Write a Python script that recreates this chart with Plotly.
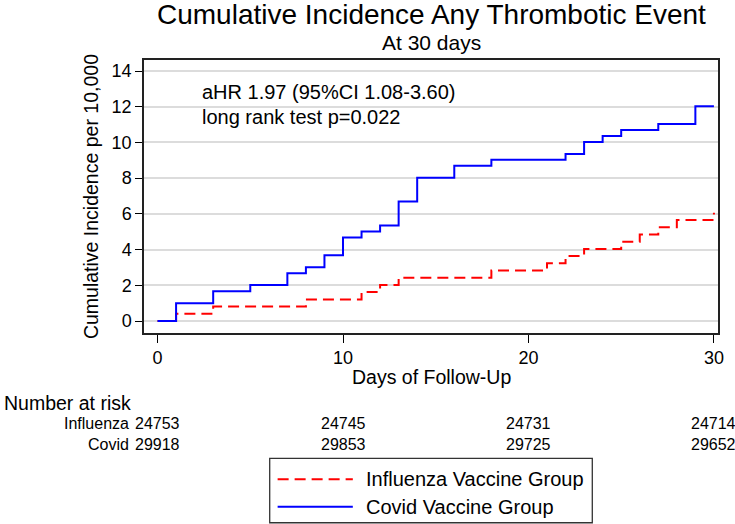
import plotly.graph_objects as go

# ---- data ----
covid_days = [0, 1, 3, 5, 7, 8, 9, 10, 11, 12, 13, 14, 16, 18, 22, 23, 24, 25, 27, 29, 30]
covid_ci = [0, 1.00, 1.67, 2.01, 2.67, 3.01, 3.68, 4.68, 5.01, 5.35, 6.69, 8.02, 8.69,
            9.03, 9.36, 10.03, 10.36, 10.70, 11.03, 12.03, 12.03]
flu_days = [0, 1, 3, 8, 11, 12, 13, 18, 21, 22, 23, 25, 26, 27, 28, 30]
flu_ci = [0, 0.40, 0.81, 1.21, 1.62, 2.02, 2.42, 2.83, 3.23, 3.64, 4.04, 4.44, 4.85,
          5.25, 5.66, 6.06]

risk_days = [0, 10, 20, 30]
risk_flu = [24753, 24745, 24731, 24714]
risk_covid = [29918, 29853, 29725, 29652]

x_ticks = [0, 10, 20, 30]
y_ticks = [0, 2, 4, 6, 8, 10, 12, 14]

group_names = ["Influenza Vaccine Group", "Covid Vaccine Group"]
group_colors = ["#ff0000", "#0000ff"]
group_dash = ["11px,6px", "solid"]

FONT = "Arial, 'Liberation Sans', sans-serif"

fig = go.Figure()
fig.add_trace(go.Scatter(x=flu_days, y=flu_ci, mode="lines", line_shape="hv",
                         line=dict(color=group_colors[0], width=2, dash=group_dash[0]),
                         name=group_names[0], showlegend=False))
fig.add_trace(go.Scatter(x=covid_days, y=covid_ci, mode="lines", line_shape="hv",
                         line=dict(color=group_colors[1], width=2, dash=group_dash[1]),
                         name=group_names[1], showlegend=False))

ann = []
# titles
ann.append(dict(text="Cumulative Incidence Any Thrombotic Event", xref="paper", yref="paper",
                x=0.5, y=1.168, xanchor="center", yanchor="middle", showarrow=False,
                font=dict(size=28, color="black")))
ann.append(dict(text="At 30 days", xref="paper", yref="paper",
                x=0.5, y=1.064, xanchor="center", yanchor="middle", showarrow=False,
                font=dict(size=21, color="black")))
# stats text
ann.append(dict(text="aHR 1.97 (95%CI 1.08-3.60)", xref="paper", yref="paper",
                x=0.0983, y=0.884, xanchor="left", yanchor="middle", showarrow=False,
                font=dict(size=20, color="black")))
ann.append(dict(text="long rank test p=0.022", xref="paper", yref="paper",
                x=0.0983, y=0.792, xanchor="left", yanchor="middle", showarrow=False,
                font=dict(size=20, color="black")))
# axis titles
ann.append(dict(text="Days of Follow-Up", xref="paper", yref="paper",
                x=0.5, y=-0.161, xanchor="center", yanchor="middle", showarrow=False,
                font=dict(size=19.5, color="black")))
ann.append(dict(text="Cumulative Incidence per 10,000", xref="paper", yref="paper",
                x=-0.093, y=0.5, xanchor="center", yanchor="middle", showarrow=False,
                textangle=-90, font=dict(size=19.5, color="black")))
# number at risk table
ann.append(dict(text="Number at risk", xref="paper", yref="paper",
                x=-0.248, y=-0.256, xanchor="left", yanchor="middle", showarrow=False,
                font=dict(size=19.5, color="black")))
ann.append(dict(text="Influenza", xref="paper", yref="paper",
                x=-0.0224, y=-0.333, xanchor="right", yanchor="middle", showarrow=False,
                font=dict(size=16, color="black")))
ann.append(dict(text="Covid", xref="paper", yref="paper",
                x=-0.0224, y=-0.407, xanchor="right", yanchor="middle", showarrow=False,
                font=dict(size=16, color="black")))
for d, v in zip(risk_days, risk_flu):
    ann.append(dict(text=str(v), xref="x", yref="paper", x=d, y=-0.333,
                    xanchor="center", yanchor="middle", showarrow=False,
                    font=dict(size=16, color="black")))
for d, v in zip(risk_days, risk_covid):
    ann.append(dict(text=str(v), xref="x", yref="paper", x=d, y=-0.407,
                    xanchor="center", yanchor="middle", showarrow=False,
                    font=dict(size=16, color="black")))

# legend (drawn box)
shapes = [dict(type="rect", xref="paper", yref="paper", x0=0.219, x1=0.781,
               y0=-0.695, y1=-0.459, line=dict(color="#333333", width=1.3),
               fillcolor="white", layer="above")]
leg_rows = [-0.536, -0.636]
for name, col, dash, yy in zip(group_names, group_colors, group_dash, leg_rows):
    shapes.append(dict(type="line", xref="paper", yref="paper", x0=0.2328, x1=0.3638,
                       y0=yy, y1=yy, line=dict(color=col, width=2, dash=dash)))
    ann.append(dict(text=name, xref="paper", yref="paper", x=0.384, y=yy,
                    xanchor="left", yanchor="middle", showarrow=False,
                    font=dict(size=20, color="black")))

fig.update_layout(
    width=735, height=524,
    margin=dict(l=144, r=11, t=60, b=191),
    paper_bgcolor="white", plot_bgcolor="white",
    font=dict(family=FONT, color="black"),
    annotations=ann, shapes=shapes,
    showlegend=False,
)
fig.update_xaxes(range=[-0.73, 30.22], tickvals=x_ticks, ticks="outside", ticklen=8,
                 tickwidth=1.3, tickcolor="black", showgrid=False, zeroline=False,
                 showline=True, linecolor="#222222", linewidth=1.5, mirror=True,
                 tickfont=dict(size=18, color="black"), fixedrange=True)
fig.update_yaxes(range=[-0.672, 14.62], tickvals=y_ticks, ticks="outside", ticklen=7,
                 tickwidth=1.3, tickcolor="black", showgrid=True, gridcolor="#dcdcdc",
                 gridwidth=1.5, zeroline=False,
                 showline=True, linecolor="#222222", linewidth=1.5, mirror=True,
                 tickfont=dict(size=18, color="black"), fixedrange=True)

fig.write_html("out.html", config={"displayModeBar": False},
               post_script="document.body.style.margin='0px';")
